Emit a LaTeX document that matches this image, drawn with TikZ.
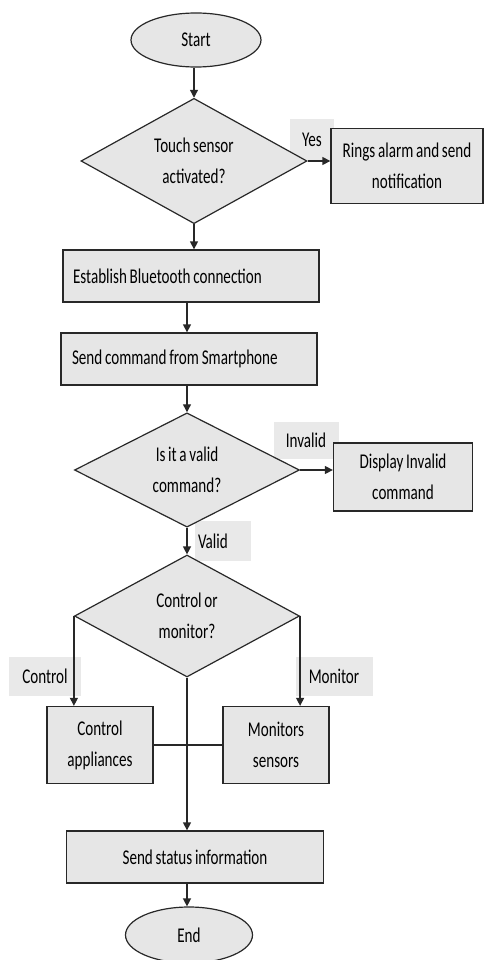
\documentclass[tikz,border=0pt]{standalone}
\usepackage{fontspec}
\setmainfont{Carlito}[FakeStretch=0.72, WordSpace=0.8]
\usepackage{tikz}
\usetikzlibrary{shapes.geometric,arrows.meta,positioning}
\definecolor{boxgray}{RGB}{230,230,230}
\definecolor{tabgray}{RGB}{233,233,233}
\definecolor{linegray}{RGB}{40,40,40}

\begin{document}
\begin{tikzpicture}[x=1pt, y=-1pt,
    font=\fontsize{21}{31}\selectfont,
    every node/.style={inner sep=0pt},
    procbox/.style={draw=linegray, line width=1.3pt, fill=boxgray, align=center},
    decbox/.style={diamond, draw=linegray, line width=1.2pt, fill=boxgray, align=center},
    termbox/.style={ellipse, draw=linegray, line width=1.2pt, fill=boxgray},
    tag/.style={fill=tabgray, minimum height=39pt},
    flow/.style={draw=linegray, line width=1.3pt, -{Triangle[length=8pt,width=8pt]}},
    link/.style={draw=linegray, line width=1.3pt}]
    \useasboundingbox (0,0) rectangle (484,960);

    % Branch labels (behind the boxes)
    \node[tag, minimum width=44pt, minimum height=41pt] (yes) at (312,140) {Yes};
    \node[tag, minimum width=65pt, minimum height=37pt] (invalid) at (306,440) {Invalid};
    \node[tag, text width=50pt, inner xsep=3pt, minimum height=40pt, align=flush left] (valid) at (223,541) {Valid};
    \node[tag, minimum width=72pt] (control) at (45,676) {Control};
    \node[tag, minimum width=77pt] (monitor) at (334,676) {Monitor};

    % Terminals
    \node[termbox, minimum width=130pt, minimum height=54pt] (start) at (196,40) {Start};
    \node[termbox, minimum width=127pt, minimum height=56pt] (finish) at (189,935) {End};

    % Decisions
    \node[decbox, minimum width=226pt, minimum height=122pt] (dec1) at (194,161) {Touch sensor\\activated?};
    \node[decbox, minimum width=225pt, minimum height=114pt] (dec2) at (187,470) {Is it a valid\\command?};
    \node[decbox, minimum width=225pt, minimum height=122pt] (dec3) at (187,616) {Control or\\monitor?};

    % Process boxes
    \node[procbox, minimum width=152pt, minimum height=75pt] (alarm) at (407,166) {Rings alarm and send\\notification};
    \node[procbox, text width=236pt, inner xsep=10pt, minimum height=52pt, align=flush left] (bt) at (191,276) {Establish Bluetooth connection};
    \node[procbox, text width=234pt, inner xsep=11pt, minimum height=52pt, align=flush left] (cmd) at (189,359) {Send command from Smartphone};
    \node[procbox, minimum width=139pt, minimum height=68pt] (disp) at (403,477) {Display Invalid\\command};
    \node[procbox, minimum width=106pt, minimum height=77pt] (ctrlbox) at (100,745) {Control\\appliances};
    \node[procbox, minimum width=106pt, minimum height=77pt] (monbox) at (276,745) {Monitors\\sensors};
    \node[procbox, minimum width=257pt, minimum height=52pt] (status) at (195,857) {Send status information};

    % Connectors
    \draw[flow] (start.south -| dec1.north) -- (dec1.north);
    \draw[flow] (dec1.east) -- (dec1.east -| alarm.west);
    \draw[flow] (dec1.south) -- (dec1.south |- bt.north);
    \draw[flow] (bt.south -| dec2.north) -- (cmd.north -| dec2.north);
    \draw[flow] (cmd.south -| dec2.north) -- (dec2.north);
    \draw[flow] (dec2.east) -- (dec2.east -| disp.west);
    \draw[flow] (dec2.south) -- (dec3.north);
    \draw[flow] (dec3.west) -- (dec3.west |- ctrlbox.north);
    \draw[flow] (dec3.east) -- (dec3.east |- monbox.north);
    \draw[link] (ctrlbox.east) -- (monbox.west);
    \draw[flow] (dec3.south) -- (dec3.south |- status.north);
    \draw[flow] (status.south -| dec3.south) -- (dec3.south |- finish.north);
\end{tikzpicture}
\end{document}
